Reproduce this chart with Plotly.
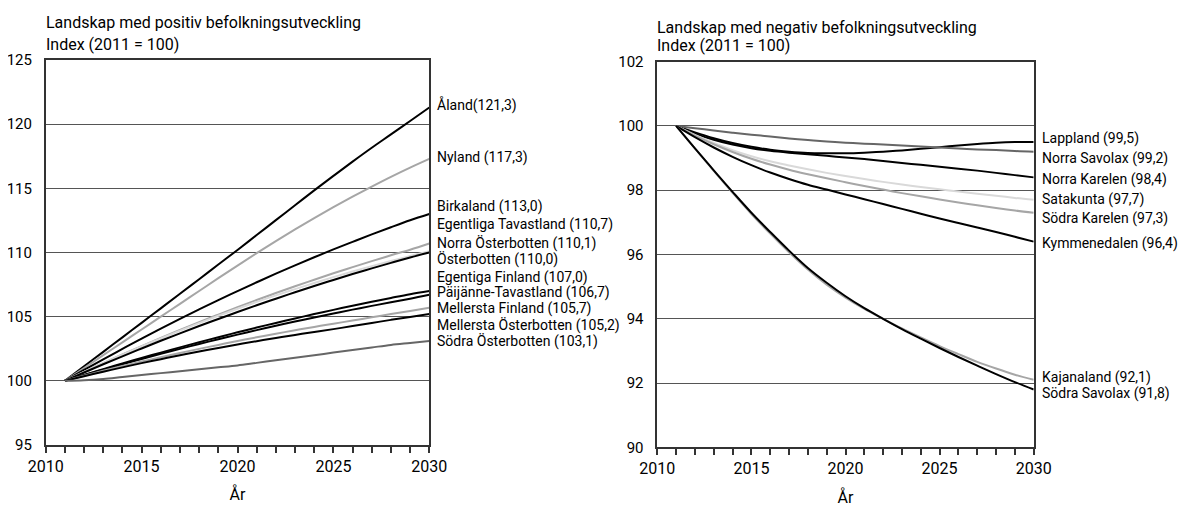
import plotly.graph_objects as go

years = list(range(2011, 2031))

# ---- Left panel: positive development ----
left_names = ["Åland", "Nyland", "Birkaland", "Egentliga Tavastland", "Norra Österbotten",
              "Österbotten", "Egentiga Finland", "Päijänne-Tavastland", "Mellersta Finland",
              "Mellersta Österbotten", "Södra Österbotten"]
left_labels = ["Åland(121,3)", "Nyland (117,3)", "Birkaland (113,0)", "Egentliga Tavastland (110,7)",
               "Norra Österbotten (110,1)", "Österbotten (110,0)", "Egentiga Finland (107,0)",
               "Päijänne-Tavastland (106,7)", "Mellersta Finland (105,7)",
               "Mellersta Österbotten (105,2)", "Södra Österbotten (103,1)"]
aland = [100, 101.13, 102.26, 103.39, 104.52, 105.65, 106.78, 107.92, 109.06, 110.2, 111.36, 112.52,
         113.68, 114.84, 115.97, 117.08, 118.16, 119.2, 120.25, 121.3]
nyland = [100, 101.0, 102.0, 103.0, 104.0, 105.0, 106.0, 107.0, 108.0, 108.98, 109.95, 110.89, 111.80,
          112.68, 113.53, 114.35, 115.14, 115.90, 116.62, 117.3]
birkaland = [100, 100.85, 101.68, 102.49, 103.29, 104.07, 104.83, 105.57, 106.29, 106.99, 107.68,
             108.35, 109.00, 109.63, 110.24, 110.83, 111.41, 111.97, 112.51, 113.0]
eg_tavastland = [100, 100.70, 101.38, 102.05, 102.70, 103.34, 103.96, 104.57, 105.16, 105.74, 106.30,
                 106.84, 107.37, 107.88, 108.38, 108.86, 109.33, 109.78, 110.22, 110.7]
n_osterbotten = [100, 100.70, 101.38, 102.04, 102.68, 103.30, 103.91, 104.50, 105.07, 105.62, 106.15,
                 106.66, 107.15, 107.62, 108.08, 108.52, 108.94, 109.34, 109.72, 110.1]
osterbotten = [100, 100.65, 101.29, 101.91, 102.52, 103.12, 103.70, 104.27, 104.82, 105.36, 105.89,
               106.40, 106.90, 107.39, 107.86, 108.32, 108.76, 109.19, 109.61, 110.0]
eg_finland = [100, 100.46, 100.91, 101.35, 101.78, 102.20, 102.61, 103.01, 103.40, 103.78, 104.15,
              104.51, 104.86, 105.20, 105.53, 105.85, 106.16, 106.46, 106.75, 107.0]
paijanne = [100, 100.44, 100.87, 101.29, 101.70, 102.10, 102.49, 102.87, 103.24, 103.60, 103.95,
            104.29, 104.62, 104.94, 105.25, 105.55, 105.84, 106.12, 106.40, 106.7]
m_finland = [100, 100.40, 100.78, 101.15, 101.50, 101.84, 102.17, 102.49, 102.80, 103.10, 103.39,
             103.67, 103.94, 104.20, 104.45, 104.70, 104.95, 105.20, 105.45, 105.7]
m_osterbotten = [100, 100.36, 100.71, 101.05, 101.38, 101.69, 101.99, 102.28, 102.56, 102.83, 103.09,
                 103.34, 103.58, 103.81, 104.03, 104.27, 104.51, 104.75, 104.98, 105.2]
s_osterbotten = [100, 100.05, 100.15, 100.3, 100.45, 100.6, 100.75, 100.9, 101.05, 101.2, 101.4,
                 101.6, 101.8, 102.0, 102.2, 102.4, 102.6, 102.8, 102.95, 103.1]
left_series = [aland, nyland, birkaland, eg_tavastland, n_osterbotten, osterbotten, eg_finland,
               paijanne, m_finland, m_osterbotten, s_osterbotten]
left_label_y = [121.5, 117.37, 113.55, 112.15, 110.74, 109.42, 108.02, 106.85, 105.6, 104.35, 103.1]

# ---- Right panel: negative development ----
right_names = ["Lappland", "Norra Savolax", "Norra Karelen", "Satakunta", "Södra Karelen",
               "Kymmenedalen", "Kajanaland", "Södra Savolax"]
right_labels = ["Lappland (99,5)", "Norra Savolax (99,2)", "Norra Karelen (98,4)", "Satakunta (97,7)",
                "Södra Karelen (97,3)", "Kymmenedalen (96,4)", "Kajanaland (92,1)", "Södra Savolax (91,8)"]
lappland = [100, 99.8, 99.62, 99.47, 99.35, 99.26, 99.2, 99.16, 99.15, 99.15, 99.17, 99.2, 99.24,
            99.29, 99.34, 99.39, 99.44, 99.48, 99.5, 99.5]
n_savolax = [100, 99.93, 99.86, 99.79, 99.73, 99.67, 99.61, 99.56, 99.52, 99.48, 99.45, 99.42, 99.39,
             99.36, 99.33, 99.3, 99.27, 99.25, 99.22, 99.2]
n_karelen = [100, 99.76, 99.57, 99.42, 99.31, 99.23, 99.17, 99.12, 99.07, 99.02, 98.97, 98.91, 98.85,
             98.79, 98.73, 98.67, 98.61, 98.54, 98.47, 98.4]
satakunta = [100, 99.72, 99.47, 99.25, 99.06, 98.9, 98.77, 98.65, 98.54, 98.44, 98.35, 98.26, 98.18,
             98.1, 98.03, 97.96, 97.89, 97.83, 97.76, 97.7]
s_karelen = [100, 99.7, 99.43, 99.19, 98.98, 98.8, 98.64, 98.5, 98.37, 98.25, 98.13, 98.02, 97.91,
             97.81, 97.71, 97.62, 97.53, 97.45, 97.37, 97.3]
kymmenedalen = [100, 99.65, 99.33, 99.04, 98.78, 98.55, 98.35, 98.17, 98.02, 97.87, 97.72, 97.57,
                97.42, 97.27, 97.12, 96.98, 96.84, 96.7, 96.55, 96.4]
kajanaland = [100, 99.3, 98.6, 97.92, 97.26, 96.65, 96.07, 95.53, 95.06, 94.66, 94.31, 94.0, 93.7,
              93.42, 93.15, 92.9, 92.66, 92.45, 92.26, 92.1]
s_savolax = [100, 99.3, 98.62, 97.95, 97.3, 96.7, 96.12, 95.58, 95.12, 94.7, 94.33, 94.0, 93.68,
             93.38, 93.09, 92.81, 92.54, 92.28, 92.03, 91.8]
right_series = [lappland, n_savolax, n_karelen, satakunta, s_karelen, kymmenedalen, kajanaland, s_savolax]
right_label_y = [99.62, 98.99, 98.34, 97.72, 97.13, 96.35, 92.16, 91.66]

BLACK = "#000000"
GREY = "#a6a6a6"
LIGHT = "#d9d9d9"
DARK = "#666666"
left_colors = [BLACK, GREY, BLACK, GREY, LIGHT, BLACK, BLACK, BLACK, GREY, BLACK, DARK]
right_colors = [BLACK, DARK, BLACK, LIGHT, GREY, BLACK, GREY, BLACK]

FONT = "Roboto, 'Liberation Sans', sans-serif"
# the page body has an 8px margin, so the figure is drawn 8px in from the top-left corner
OFF = 8
W, H = 1186 - OFF, 507 - OFF


def px(x):
    return (x - OFF) / W


def py(y):
    return 1 - (y - OFF) / H


fig = go.Figure()
for name, ys, col in zip(left_names, left_series, left_colors):
    fig.add_trace(go.Scatter(x=years, y=ys, mode="lines", name=name, line=dict(color=col, width=2),
                             line_shape="spline", xaxis="x", yaxis="y", showlegend=False))
for name, ys, col in zip(right_names, right_series, right_colors):
    fig.add_trace(go.Scatter(x=years, y=ys, mode="lines", name=name, line=dict(color=col, width=2),
                             line_shape="spline", xaxis="x2", yaxis="y2", showlegend=False))

annotations = []
for lab, ly in zip(left_labels, left_label_y):
    annotations.append(dict(x=2030, y=ly, xref="x", yref="y", text=lab, showarrow=False,
                            xanchor="left", yanchor="middle", xshift=6,
                            font=dict(size=14, color="#000", family=FONT)))
for lab, ly in zip(right_labels, right_label_y):
    annotations.append(dict(x=2030, y=ly, xref="x2", yref="y2", text=lab, showarrow=False,
                            xanchor="left", yanchor="middle", xshift=6,
                            font=dict(size=14, color="#000", family=FONT)))

# titles
annotations += [
    dict(x=px(44), y=py(22), xref="paper", yref="paper", xanchor="left", yanchor="middle",
         text="Landskap med positiv befolkningsutveckling", showarrow=False,
         font=dict(size=16, family=FONT, color="#000")),
    dict(x=px(44), y=py(45), xref="paper", yref="paper", xanchor="left", yanchor="middle",
         text="Index (2011 = 100)", showarrow=False, font=dict(size=16, family=FONT, color="#000")),
    dict(x=px(655), y=py(27), xref="paper", yref="paper", xanchor="left", yanchor="middle",
         text="Landskap med negativ befolkningsutveckling", showarrow=False,
         font=dict(size=16, family=FONT, color="#000")),
    dict(x=px(655), y=py(46), xref="paper", yref="paper", xanchor="left", yanchor="middle",
         text="Index (2011 = 100)", showarrow=False, font=dict(size=16, family=FONT, color="#000")),
]


def xaxis_cfg(domain, anchor, standoff):
    return dict(domain=domain, anchor=anchor, range=[2010, 2030], tick0=2010, dtick=5,
                automargin=False,
                showgrid=False, zeroline=False, showline=True, mirror=True, linecolor="#333",
                linewidth=1.5, ticks="outside", ticklen=6, tickcolor="#333", tickwidth=1.5,
                minor=dict(dtick=1, ticks="outside", ticklen=6, tickcolor="#333", tickwidth=1.5),
                tickfont=dict(size=16, family=FONT, color="#000"),
                title=dict(text="År", font=dict(size=16, family=FONT, color="#000"),
                           standoff=standoff))


def yaxis_cfg(domain, anchor, rng, dtick):
    return dict(domain=domain, anchor=anchor, range=rng, dtick=dtick, showgrid=True,
                automargin=False,
                gridcolor="#555", gridwidth=1, zeroline=False, showline=True, mirror=True,
                linecolor="#333", linewidth=1.5, ticks="", ticklabelstandoff=9,
                tickfont=dict(size=15, family=FONT, color="#000"))


fig.update_layout(
    width=W, height=H, margin=dict(l=0, r=0, t=0, b=0, autoexpand=False),
    paper_bgcolor="white", plot_bgcolor="white",
    xaxis=xaxis_cfg([px(45.7), px(429.3)], "y", 14),
    yaxis=yaxis_cfg([py(445), py(60)], "x", [95, 125], 5),
    xaxis2=xaxis_cfg([px(657.3), px(1033.7)], "y2", 18),
    yaxis2=yaxis_cfg([py(447.3), py(61.7)], "x2", [90, 102], 2),
    annotations=annotations,
    showlegend=False,
)

fig.write_html("out.html")
